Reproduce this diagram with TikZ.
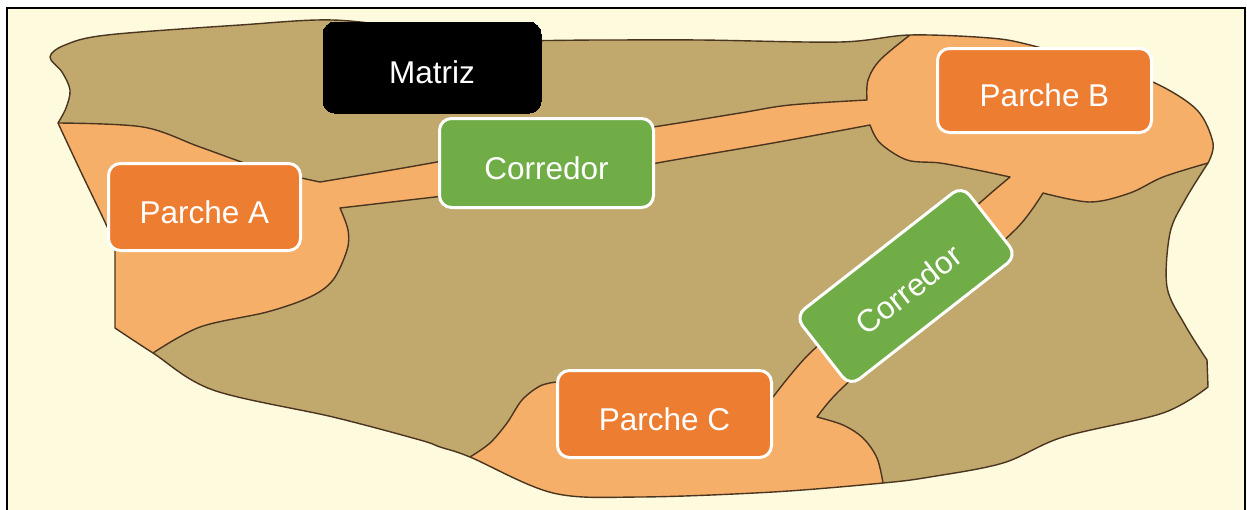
\documentclass[tikz,border=0pt]{standalone}
\usepackage{fontspec}
\setmainfont{Liberation Sans}
\definecolor{cream}{HTML}{FEFADD}
\definecolor{matrixtan}{HTML}{C1A96E}
\definecolor{patchorange}{HTML}{F6AF68}
\definecolor{edgebrown}{HTML}{4A3520}
\definecolor{boxorange}{HTML}{ED7D31}
\definecolor{boxgreen}{HTML}{70AD47}
\tikzset{
  labelbox/.style={rectangle, rounded corners=12pt, draw=white, line width=3pt,
    text=white, font=\fontsize{31.5}{36}\selectfont, inner sep=0pt,
    text height=32pt, text depth=0pt},
  patchbox/.style={labelbox, fill=boxorange},
  corridorbox/.style={labelbox, fill=boxgreen},
  matrixbox/.style={labelbox, fill=black, draw=black, line width=0pt},
  edge/.style={draw=edgebrown, line width=1.4pt, line join=round}
}
\begin{document}
\begin{tikzpicture}[x=1pt,y=-1pt]
\useasboundingbox (0,0) rectangle (1247,509);
\clip (0,0) rectangle (1247,509);
\fill[white] (0,0) rectangle (1247,509);
% frame
\draw[fill=cream, line width=2pt] (7,8) rectangle (1245,540);

% outline of the landscape
\def\landscape{
  plot[smooth, tension=0.55] coordinates {(58,123) (66,108) (70,90) (62,72) (50,57) (65,45) (107,35) (240,25) (333,20) (420,30) (487,40) (600,40) (700,40) (840,42) (910,35) (990,38) (1030,45) (1100,65) (1155,83) (1197,110) (1213,143) (1208,163)}
  -- plot[smooth, tension=0.55] coordinates {(1208,163) (1185,200) (1170,233) (1167,287) (1185,325) (1207,360)}
  -- (1208,387)
  -- plot[smooth, tension=0.55] coordinates {(1208,387) (1163,413) (1063,437) (1003,463) (930,477) (883,483) (773,492) (640,497) (553,493) (470,457) (440,447) (420,440) (333,417) (213,390) (153,353) (115,328)}
  -- (115,250)
  -- plot[smooth, tension=0.55] coordinates {(115,250) (110,233) (80,170) (58,123)}
  -- cycle}

\fill[matrixtan] \landscape;

% patches and corridors, cut to the landscape
\begin{scope}
\clip \landscape;
\path[fill=patchorange, edge]
  (40,118)
  -- plot[smooth, tension=0.55] coordinates {(58,123) (143,127) (200,147) (260,168) (320,182)}
  -- plot[smooth, tension=0.55] coordinates {(320,182) (380,172) (437,162) (540,143) (653,127) (740,113) (790,105) (867,100)}
  -- plot[smooth, tension=0.55] coordinates {(867,100) (868,80) (880,60) (910,35)}
  -- (915,5) -- (1240,5) -- (1240,160)
  -- plot[smooth, tension=0.55] coordinates {(1208,163) (1163,177) (1130,193) (1090,202) (1043,193)}
  -- plot[smooth, tension=0.4] coordinates {(1043,193) (1017,228) (930,308) (840,390) (817,417)}
  -- plot[smooth, tension=0.55] coordinates {(817,417) (843,425) (863,438) (877,458) (883,483)}
  -- (890,520) -- (455,520) -- (455,475)
  -- plot[smooth, tension=0.55] coordinates {(470,457) (490,443) (507,423) (522,400) (540,386) (556,382)}
  -- (773,397)
  -- plot[smooth, tension=0.4] coordinates {(773,397) (810,353) (900,274) (983,200) (1010,177)}
  -- plot[smooth, tension=0.55] coordinates {(1010,177) (977,170) (940,163) (907,160) (880,143) (870,125)}
  -- plot[smooth, tension=0.55] coordinates {(870,125) (773,143) (657,163) (540,185) (435,197) (340,208)}
  -- plot[smooth, tension=0.55] coordinates {(340,208) (348,230) (347,250) (333,280) (310,297) (267,312) (200,327) (153,353)}
  -- (140,380) -- (85,330) -- (85,240) -- cycle;
\end{scope}

\draw[edge] \landscape;

% labels
\node[matrixbox, minimum width=218pt, minimum height=91pt] (matriz) at (432,67.5) {Matriz};
\node[corridorbox, minimum width=214pt, minimum height=89pt] (corrAB) at (546.5,163) {Corredor};
\node[patchbox, minimum width=192pt, minimum height=87pt] (parcheA) at (204.5,207) {Parche A};
\node[patchbox, minimum width=214pt, minimum height=84pt] (parcheB) at (1044.5,90.5) {Parche B};
\node[patchbox, minimum width=214pt, minimum height=87pt] (parcheC) at (664.5,414) {Parche C};
\node[corridorbox, minimum width=212pt, minimum height=89pt, rotate=38] (corrBC) at (906,286) {Corredor};
\end{tikzpicture}
\end{document}
